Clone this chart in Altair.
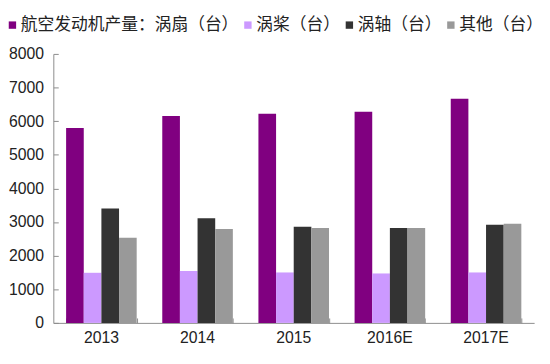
import altair as alt
import pandas as pd

years = ["2013", "2014", "2015", "2016E", "2017E"]
series_names = ["航空发动机产量：涡扇（台）", "涡桨（台）", "涡轴（台）", "其他（台）"]
turbofan = [5800, 6150, 6220, 6280, 6670]
turboprop = [1490, 1540, 1500, 1470, 1500]
turboshaft = [3400, 3110, 2860, 2820, 2920]
other = [2530, 2790, 2820, 2820, 2950]
colors = ["#800080", "#CC99FF", "#333333", "#999999"]
y_ticks = [0, 1000, 2000, 3000, 4000, 5000, 6000, 7000, 8000]

rows = []
for name, vals in zip(series_names, [turbofan, turboprop, turboshaft, other]):
    for yr, v in zip(years, vals):
        rows.append({"year": yr, "series": name, "value": v})
df = pd.DataFrame(rows)

W, H = 488, 273
FONT = "Liberation Sans"
CJK = "Noto Sans CJK SC"

xscale = alt.Scale(domain=years, paddingInner=0.266, paddingOuter=0.133)
yscale = alt.Scale(domain=[0, 8000], nice=False)

bars = alt.Chart(df).mark_bar().encode(
    x=alt.X("year:N", sort=years, scale=xscale, title=None,
            axis=alt.Axis(labelAngle=0, ticks=False, tickSize=0, domain=True,
                          domainColor="#8c8c8c", labelFont=FONT, labelFontSize=16,
                          labelColor="#222222", labelPadding=7)),
    xOffset=alt.XOffset("series:N", sort=series_names,
                        scale=alt.Scale(paddingInner=0, paddingOuter=0)),
    y=alt.Y("value:Q", scale=yscale, title=None,
            axis=alt.Axis(values=y_ticks, format="d", grid=False, ticks=False, tickSize=0,
                          domain=True, domainColor="#8c8c8c", labelFont=FONT,
                          labelFontSize=16, labelColor="#222222", labelPadding=10)),
    color=alt.Color("series:N", sort=series_names,
                    scale=alt.Scale(domain=series_names, range=colors),
                    legend=alt.Legend(title=None, orient="none", legendX=-50, legendY=-38,
                                      direction="horizontal", columns=4,
                                      symbolType="square", symbolSize=56,
                                      symbolStrokeWidth=0, labelFont=CJK,
                                      labelFontSize=17, labelColor="#222222",
                                      labelOffset=0, columnPadding=1,
                                      labelLimit=400)),
)

ticks_layer = alt.Chart(df).mark_point(opacity=0, size=0).encode(
    x=alt.X("year:N", sort=years, scale=xscale, title=None,
            axis=alt.Axis(orient="top", offset=-H, labels=False, domain=False,
                          ticks=True, tickSize=5, tickColor="#8c8c8c",
                          tickBand="extent")),
    y=alt.Y("value:Q", scale=yscale, title=None,
            axis=alt.Axis(orient="right", offset=-W, values=y_ticks, labels=False,
                          domain=False, grid=False, ticks=True, tickSize=5,
                          tickColor="#8c8c8c")),
)

chart = alt.layer(bars, ticks_layer).resolve_axis(
    x="independent", y="independent"
).properties(
    width=W, height=H,
    autosize=alt.AutoSizeParams(type="none"),
    padding={"left": 46, "top": 44, "right": 8, "bottom": 31},
).configure_view(stroke=None)

chart.save("out.html", embed_options={"renderer": "svg", "actions": False})
